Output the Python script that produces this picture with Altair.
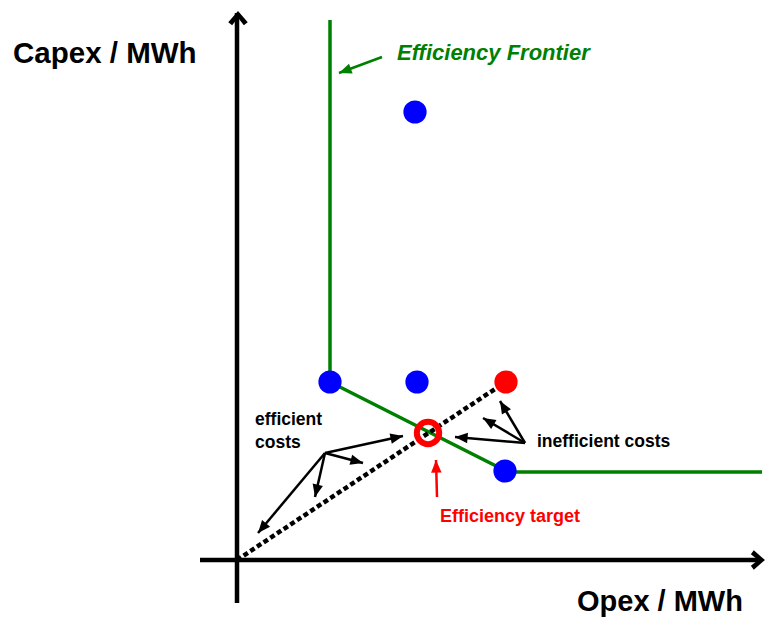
import math
import altair as alt
import pandas as pd

# Conceptual data (Opex on x, Capex on y), arbitrary units, origin at the axes crossing
blue_opex = [178, 93, 180, 268]
blue_capex = [448, 178, 178, 89]
red_opex = [269]
red_capex = [178]
target_opex = [191]
target_capex = [127]

frontier_opex = [93, 93, 271, 525]
frontier_capex = [540, 178, 88, 88]

ray_opex = [0, 258]
ray_capex = [0, 171]

# arrows: tail -> tip
eff_tail = [88, 107]
eff_tips_opex = [21, 78, 126, 166]
eff_tips_capex = [27, 63, 97, 124]
ineff_tail = [288, 117]
ineff_tips_opex = [218, 246, 263]
ineff_tips_capex = [123, 142, 159]
green_arrow = [145, 503, 102, 487]
red_arrow = [200, 63, 199, 100]

yaxis_line = [0, -43, 0, 547]
xaxis_line = [-37, 0, 524, 0]
yaxis_tip = [1, 549]
xaxis_tip = [528, 0]

labels = ["Capex / MWh", "Opex / MWh", "Efficiency Frontier", "efficient", "costs",
          "inefficient costs", "Efficiency target"]
label_x = [-224, 340, 160, 18, 18, 300, 203]
label_y = [497, -51, 500, 135, 112, 113, 38]

GREEN = "#008000"
BLUE = "#0000ff"
RED = "#ff0000"
FONT = "Liberation Sans"

xs = alt.Scale(domain=[-229, 528], nice=False, zero=False)
ys = alt.Scale(domain=[-58, 552], nice=False, zero=False)
X = lambda f: alt.X(f, type="quantitative", scale=xs, axis=None)
Y = lambda f: alt.Y(f, type="quantitative", scale=ys, axis=None)

# ---- arrows ----
rows = []
for tx, ty in zip(eff_tips_opex, eff_tips_capex):
    rows.append(dict(x=eff_tail[0], y=eff_tail[1], x2=tx, y2=ty, c="black"))
for tx, ty in zip(ineff_tips_opex, ineff_tips_capex):
    rows.append(dict(x=ineff_tail[0], y=ineff_tail[1], x2=tx, y2=ty, c="black"))
rows.append(dict(x=green_arrow[0], y=green_arrow[1], x2=green_arrow[2], y2=green_arrow[3], c=GREEN))
rows.append(dict(x=red_arrow[0], y=red_arrow[1], x2=red_arrow[2], y2=red_arrow[3], c=RED))
arr = pd.DataFrame(rows)
arr["ang"] = [math.degrees(math.atan2(r.x2 - r.x, r.y2 - r.y)) % 360 for r in arr.itertuples()]

arrow_lines = alt.Chart(arr).mark_rule(strokeWidth=2.5).encode(
    x=X("x"), y=Y("y"), x2="x2", y2="y2", color=alt.Color("c:N", scale=None))
arrow_heads = alt.Chart(arr).mark_point(
    shape="M0,0L-1,2.4L1,2.4Z", filled=True, opacity=1, size=110, strokeWidth=0
).encode(x=X("x2"), y=Y("y2"), angle=alt.Angle("ang:Q", scale=None),
         color=alt.Color("c:N", scale=None))

# ---- axes ----
ax = pd.DataFrame([
    dict(x=yaxis_line[0], y=yaxis_line[1], x2=yaxis_line[2], y2=yaxis_line[3]),
    dict(x=xaxis_line[0], y=xaxis_line[1], x2=xaxis_line[2], y2=xaxis_line[3]),
])
axis_lines = alt.Chart(ax).mark_rule(strokeWidth=4.5, color="black").encode(
    x=X("x"), y=Y("y"), x2="x2", y2="y2")
tips = pd.DataFrame([dict(x=yaxis_tip[0], y=yaxis_tip[1], ang=0),
                     dict(x=xaxis_tip[0], y=xaxis_tip[1], ang=90)])
axis_heads = alt.Chart(tips).mark_point(
    shape="M0,0L1,1.15L0.6,1.45L0,0.7L-0.6,1.45L-1,1.15Z", filled=True, opacity=1,
    size=380, color="black", strokeWidth=0
).encode(x=X("x"), y=Y("y"), angle=alt.Angle("ang:Q", scale=None))

# ---- frontier & ray ----
fr = pd.DataFrame(dict(x=frontier_opex, y=frontier_capex, o=list(range(len(frontier_opex)))))
frontier = alt.Chart(fr).mark_line(color=GREEN, strokeWidth=3.5, strokeJoin="miter").encode(
    x=X("x"), y=Y("y"), order="o:Q")
ry = pd.DataFrame(dict(x=ray_opex, y=ray_capex))
ray = alt.Chart(ry).mark_line(color="black", strokeWidth=4.5, strokeDash=[5, 3]).encode(
    x=X("x"), y=Y("y"))

# ---- points ----
bl = pd.DataFrame(dict(x=blue_opex, y=blue_capex))
blue_pts = alt.Chart(bl).mark_circle(color=BLUE, size=540, opacity=1).encode(x=X("x"), y=Y("y"))
rd = pd.DataFrame(dict(x=red_opex, y=red_capex))
red_pts = alt.Chart(rd).mark_circle(color=RED, size=540, opacity=1).encode(x=X("x"), y=Y("y"))
tg = pd.DataFrame(dict(x=target_opex, y=target_capex))
target = alt.Chart(tg).mark_point(shape="circle", filled=False, color=RED, size=500,
                                  strokeWidth=6, opacity=1).encode(x=X("x"), y=Y("y"))

# ---- texts ----
def txt(i, size, color="black", style="normal"):
    d = pd.DataFrame(dict(x=[label_x[i]], y=[label_y[i]], t=[labels[i]]))
    return alt.Chart(d).mark_text(
        align="left", baseline="alphabetic", font=FONT, fontSize=size,
        fontWeight="bold", fontStyle=style, color=color
    ).encode(x=X("x"), y=Y("y"), text="t:N")

texts = [
    txt(0, 29.5), txt(1, 29), txt(2, 22, GREEN, "italic"),
    txt(3, 17.5), txt(4, 17.5), txt(5, 17.5), txt(6, 18, RED),
]

chart = alt.layer(
    axis_lines, axis_heads, frontier, ray, blue_pts, red_pts, target,
    arrow_lines, arrow_heads, *texts
).properties(
    width=757, height=610,
    autosize=alt.AutoSizeParams(type="none"),
    padding={"left": 0, "top": 0, "right": 0, "bottom": 0},
).configure_view(strokeWidth=0)

chart.save("out.html", embed_options={"renderer": "svg", "actions": False})
